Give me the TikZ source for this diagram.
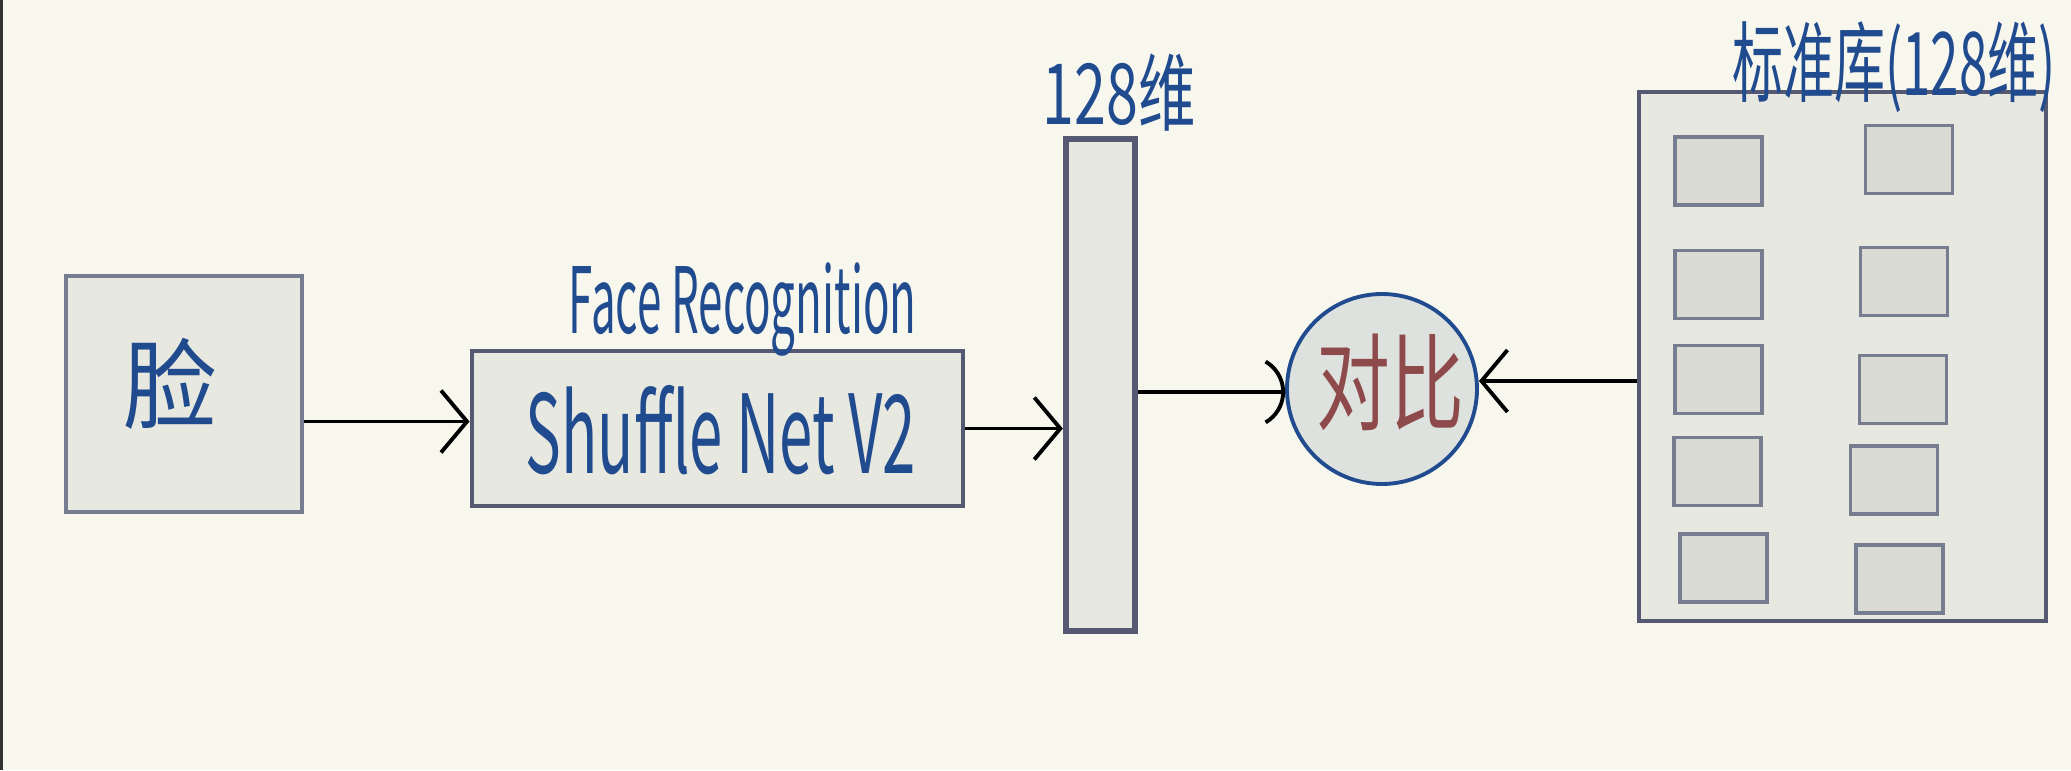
\documentclass[tikz,border=0pt]{standalone}
\usepackage{fontspec}
\newfontfamily\cjk{Noto Sans CJK SC}
\usetikzlibrary{arrows.meta,positioning}

\definecolor{paper}{HTML}{F7F7EE}
\definecolor{boxfill}{HTML}{E7E8DF}
\definecolor{boxline}{HTML}{767D91}
\definecolor{darkline}{HTML}{555A72}
\definecolor{cellfill}{HTML}{D9DAD3}
\definecolor{circfill}{HTML}{DEE2DF}
\definecolor{ink}{HTML}{214B8F}
\definecolor{redink}{HTML}{8E4A4A}

% handwritten-looking text: size, horizontal squeeze, text
\newcommand{\handtext}[3]{\fontsize{#1}{#1}\selectfont\scalebox{#2}[1]{#3}}

\begin{document}
\begin{tikzpicture}[
            > = {Straight Barb[length=2.6mm,width=6.2mm]}, % arrow head style
            line width = 1.1pt % line style
        ]

        \tikzstyle{box}=[
            draw = boxline,
            fill = boxfill,
            line width = 0.9pt
        ]
        \tikzstyle{darkbox}=[
            draw = darkline,
            fill = boxfill,
            line width = 1.4pt
        ]
        \tikzstyle{cell}=[
            draw = boxline,
            fill = cellfill,
            line width = 0.9pt,
            minimum width = 0.87cm,
            minimum height = 0.68cm
        ]
        \tikzstyle{hand}=[
            text = ink,
            font = \cjk,
            inner sep = 0pt
        ]

        \fill[paper] (0,0) rectangle (20.71,-7.70);
        \useasboundingbox (0,0) rectangle (20.71,-7.70);
        \fill[black!80] (0,0) rectangle (0.03,-7.70);

        \node[box, minimum width=2.36cm, minimum height=2.36cm] (face) at (1.84,-3.94) {};
        \node[hand] (facetxt) at (1.70,-3.84) {\handtext{28}{0.95}{脸}};

        \node[darkbox, minimum width=4.91cm, minimum height=1.55cm] (shuffle) at (7.175,-4.285) {};
        \node[hand] (net) at (7.21,-4.30) {\handtext{31}{0.55}{Shuffle Net V2}};
        \node[hand, above=-1mm of shuffle, xshift=2.5mm] (title) {\handtext{26}{0.48}{Face Recognition}};

        \node[darkbox, line width=1.8pt, minimum width=0.69cm, minimum height=4.92cm] (bar) at (11.005,-3.85) {};
        \node[hand, above=0.3mm of bar, xshift=1.85mm] (dim) {\handtext{24}{0.68}{128维}};

        \node[circle, draw=ink, fill=circfill, line width=1.1pt, minimum size=1.90cm, inner sep=0pt] (cmp) at (13.82,-3.89) {};
        \node[hand, text=redink] (cmptxt) at (13.90,-3.82) {\handtext{30}{0.7}{对比}};

        \node[box, draw=darkline, line width=1.1pt, minimum width=4.07cm, minimum height=5.29cm] (db) at (18.425,-3.565) {};
        \node[hand, above=-2.5mm of db, xshift=5.15mm] (dbtxt) {\handtext{25}{0.58}{标准库(128维)}};

        \foreach \n/\x/\y in {1/17.185/-1.71, 2/19.09/-1.595, 3/17.185/-2.845, 4/19.04/-2.815,
                              5/17.185/-3.795, 6/19.03/-3.895, 7/17.175/-4.715, 8/18.94/-4.80,
                              9/17.235/-5.68, 10/18.995/-5.79}
            \node[cell] (c\n) at (\x,\y) {};

        \draw[->] ([yshift=0.7mm]shuffle.west -| face.east) -- ([yshift=0.7mm]shuffle.west);
        \draw[->] (shuffle.east) -- (shuffle.east -| bar.west);
        \draw[-{Arc Barb[length=3.7mm,arc=120]}] ([yshift=-0.3mm]cmp.west -| bar.east) -- ([yshift=-0.3mm]cmp.west);
        \draw[->] ([yshift=0.8mm]cmp.east -| db.west) -- ([yshift=0.8mm]cmp.east);

    \end{tikzpicture}
\end{document}
